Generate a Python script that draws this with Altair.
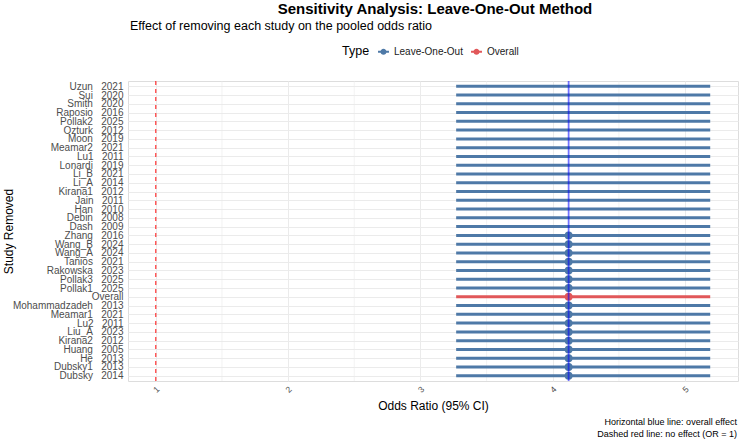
import altair as alt
import pandas as pd

# Rows listed from top to bottom of the plot
studies = ["Uzun", "Sui", "Smith", "Raposio", "Pollak2", "Ozturk", "Moon", "Meamar2",
           "Lu1", "Lonardi", "Li_B", "Li_A", "Kirana1", "Jain", "Han", "Debin", "Dash",
           "Zhang", "Wang_B", "Wang_A", "Tanios", "Rakowska", "Pollak3", "Pollak1",
           "Overall", "Mohammadzadeh", "Meamar1", "Lu2", "Liu_A", "Kirana2", "Huang",
           "He", "Dubsky1", "Dubsky"]
years = ["2021", "2020", "2020", "2016", "2025", "2012", "2019", "2021",
         "2011", "2019", "2021", "2014", "2012", "2011", "2010", "2008", "2009",
         "2016", "2024", "2024", "2021", "2023", "2025", "2025",
         "", "2013", "2021", "2011", "2023", "2012", "2005",
         "2013", "2013", "2014"]
types = ["Leave-One-Out"] * 24 + ["Overall"] + ["Leave-One-Out"] * 9

# Pooled odds ratio after dropping each study (no estimate drawn for the first 17 rows)
estimate = [None] * 17 + [4.12] * 17
ci_lower = [3.27] * 34
ci_upper = [5.19] * 34

overall_or = 4.12
null_or = 1.0
major_ticks = [1, 2, 3, 4, 5]
minor_ticks = [1.5, 2.5, 3.5, 4.5]

NBSP = "\u00a0"
labels = [s if not y else f"{s}{NBSP*3}{y}" for s, y in zip(studies, years)]

df = pd.DataFrame({
    "label": labels,
    "type": types,
    "est": estimate,
    "lo": ci_lower,
    "hi": ci_upper,
})

FONT = "Liberation Sans"
W, H = 610, 300

x_scale = alt.Scale(domain=[0.79, 5.40], nice=False, zero=False)
y_scale = alt.Scale(type="point", padding=0.6)
color_scale = alt.Scale(domain=["Leave-One-Out", "Overall"], range=["#4E79A7", "#E15759"])

# legend glyph: a dot with a bar through it
glyph = ("M-1,-0.16H1V0.16H-1Z "
         "M-0.55,0A0.55,0.55 0 1,1 0.55,0A0.55,0.55 0 1,1 -0.55,0Z")
legend = alt.Legend(
    title="Type", orient="none", direction="horizontal", titleOrient="left",
    legendX=214, legendY=-35, symbolType=glyph, symbolSize=120,
    symbolStrokeWidth=0, labelFontSize=10, titleFontSize=12.5, titleFontWeight="normal",
    titleColor="#000000", labelColor="#1A1A1A", columnPadding=8, titlePadding=8,
    labelOffset=5, labelFont=FONT, titleFont=FONT,
)

x_axis = alt.Axis(
    values=major_ticks, format="d", labelAngle=315, labelAlign="center",
    labelBaseline="middle", labelPadding=8, labelFontSize=8.5, labelColor="#4D4D4D",
    ticks=False, domain=False, grid=True, gridColor="#EBEBEB", gridWidth=1,
    title="Odds Ratio (95% CI)", titleFontSize=12, titleFontWeight="normal",
    titleColor="#000000", titlePadding=7, labelFont=FONT, titleFont=FONT,
)
y_axis = alt.Axis(
    labelFontSize=10, labelColor="#4D4D4D", labelPadding=5, ticks=False, domain=False,
    grid=True, gridColor="#EBEBEB", gridWidth=1,
    title="Study Removed", titleFontSize=12, titleFontWeight="normal",
    titleColor="#000000", titleX=-120, titleY=150, titleAngle=270,
    titleAlign="center", titleBaseline="middle", labelFont=FONT, titleFont=FONT,
)

base = alt.Chart(df)

minor_grid = alt.Chart(pd.DataFrame({"v": minor_ticks})).mark_rule(
    color="#EBEBEB", strokeWidth=0.6
).encode(x=alt.X("v:Q", scale=x_scale, axis=x_axis))

null_line = alt.Chart(pd.DataFrame({"v": [null_or]})).mark_rule(
    color="#FF0000", opacity=0.8, strokeWidth=1.2, strokeDash=[4, 4]
).encode(x=alt.X("v:Q", scale=x_scale))

ci = base.mark_rule(strokeWidth=3).encode(
    y=alt.Y("label:N", sort=labels, scale=y_scale, axis=y_axis),
    x=alt.X("lo:Q", scale=x_scale),
    x2="hi:Q",
    color=alt.Color("type:N", scale=color_scale, legend=legend),
)

pts = base.mark_point(filled=True, size=62, opacity=1).encode(
    y=alt.Y("label:N", sort=labels, scale=y_scale),
    x=alt.X("est:Q", scale=x_scale),
    color=alt.Color("type:N", scale=color_scale, legend=legend),
)

overall_line = alt.Chart(pd.DataFrame({"v": [overall_or]})).mark_rule(
    color="#0000FF", opacity=0.55, strokeWidth=1.8
).encode(x=alt.X("v:Q", scale=x_scale))


def note(text, x, y, **kw):
    return alt.Chart(pd.DataFrame({"t": [text]})).mark_text(font=FONT, **kw).encode(
        x=alt.value(x), y=alt.value(y), text="t:N"
    )


title = note("Sensitivity Analysis: Leave-One-Out Method", 307, -72,
             fontSize=15, fontWeight="bold", align="center", baseline="middle", color="#000000")
subtitle = note("Effect of removing each study on the pooled odds ratio", 2, -55,
                fontSize=12.5, align="left", baseline="middle", color="#000000")
cap1 = note("Horizontal blue line: overall effect", 609, 341,
            fontSize=9, align="right", baseline="middle", color="#000000")
cap2 = note("Dashed red line: no effect (OR = 1)", 609, 353,
            fontSize=9, align="right", baseline="middle", color="#000000")

chart = alt.layer(
    minor_grid, null_line, ci, pts, overall_line, title, subtitle, cap1, cap2
).properties(
    width=W, height=H,
    autosize=alt.AutoSizeParams(type="none"),
    padding={"left": 128, "top": 81, "right": 1, "bottom": 58},
).configure_view(stroke=None).configure(font=FONT, background="white")

chart.save("out.html", embed_options={"renderer": "svg", "actions": False})
